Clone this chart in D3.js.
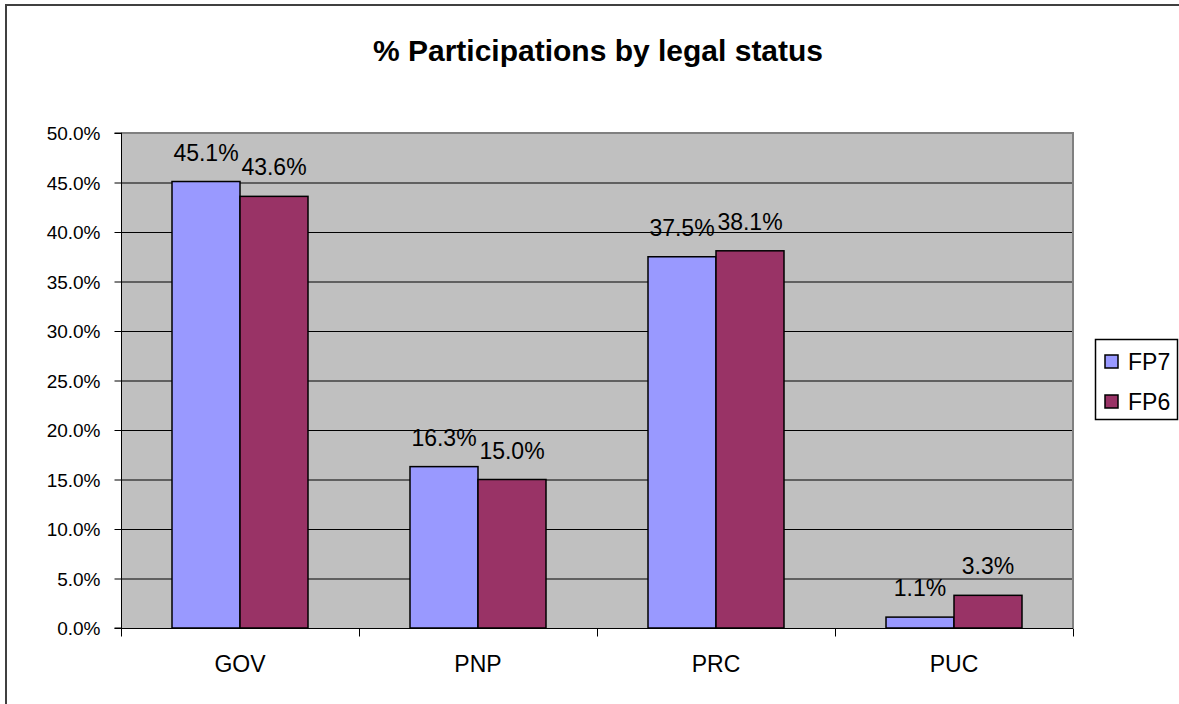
<!DOCTYPE html>
<html>
<head>
<meta charset="utf-8">
<script src="https://d3js.org/d3.v7.min.js"></script>
<style>
  html, body { margin: 0; padding: 0; background: #ffffff; }
  svg { display: block; }
  text { font-family: "Liberation Sans", Arial, sans-serif; fill: #000; }
</style>
</head>
<body>
<svg id="chart" width="1179" height="704"></svg>
<script>
const title = "% Participations by legal status";
const categories = ["GOV", "PNP", "PRC", "PUC"];
const seriesNames = ["FP7", "FP6"];
const fp7 = [45.1, 16.3, 37.5, 1.1];
const fp6 = [43.6, 15.0, 38.1, 3.3];
const yTicks = [0, 5, 10, 15, 20, 25, 30, 35, 40, 45, 50];
const colors = ["#9999ff", "#993366"];

const seriesValues = [fp7, fp6];
const svg = d3.select("#chart");
const W = 1179, H = 704;
const plot = { left: 121, top: 133, right: 1073, bottom: 628 };

// outer frame
svg.append("rect").attr("x", 6).attr("y", 5).attr("width", W + 10).attr("height", H + 10)
  .attr("fill", "#fff").attr("stroke", "#404040").attr("stroke-width", 2);

// title
svg.append("text").attr("x", 598).attr("y", 61).attr("text-anchor", "middle")
  .style("font-size", "30px").style("font-weight", "bold").text(title);

const x0 = d3.scaleBand().domain(categories).range([plot.left, plot.right])
  .paddingInner(102 / 238).paddingOuter(51 / 238);
const x1 = d3.scaleBand().domain(seriesNames).range([0, x0.bandwidth()]);
const y = d3.scaleLinear().domain([0, 50]).range([plot.bottom, plot.top]);

// plot background
svg.append("rect").attr("x", plot.left).attr("y", plot.top)
  .attr("width", plot.right - plot.left).attr("height", plot.bottom - plot.top)
  .attr("fill", "#c0c0c0");

// gridlines
svg.append("g").selectAll("line").data(yTicks.filter(t => t > 0 && t < 50)).join("line")
  .attr("x1", plot.left).attr("x2", plot.right)
  .attr("y1", d => y(d) + 0.5).attr("y2", d => y(d) + 0.5)
  .attr("stroke", "#000").attr("stroke-width", 1);

// plot border top/right (gray)
svg.append("path")
  .attr("d", `M${plot.left},${plot.top} H${plot.right} V${plot.bottom}`)
  .attr("fill", "none").attr("stroke", "#808080").attr("stroke-width", 2);

// bars
const groups = svg.append("g").selectAll("g").data(categories).join("g")
  .attr("transform", c => `translate(${x0(c)},0)`);
groups.selectAll("rect").data((c, i) => seriesNames.map((s, j) => ({ s, v: seriesValues[j][i], j })))
  .join("rect")
  .attr("x", d => x1(d.s)).attr("width", x1.bandwidth())
  .attr("y", d => y(d.v)).attr("height", d => plot.bottom - y(d.v))
  .attr("fill", d => colors[d.j]).attr("stroke", "#000").attr("stroke-width", 1.5);

// data labels
groups.selectAll("text").data((c, i) => seriesNames.map((s, j) => ({ s, v: seriesValues[j][i], j })))
  .join("text")
  .attr("x", d => x1(d.s) + x1.bandwidth() / 2)
  .attr("y", d => y(d.v) - 21)
  .attr("text-anchor", "middle").style("font-size", "23px")
  .text(d => d.v.toFixed(1) + "%");

// y axis
const yAxis = d3.axisLeft(y).tickValues(yTicks).tickSize(7).tickPadding(14)
  .tickFormat(d => d.toFixed(1) + "%");
const yg = svg.append("g").attr("transform", `translate(${plot.left + 0.5},0)`).call(yAxis);
yg.select(".domain").attr("stroke", "#000").attr("d", `M-7,${plot.bottom}H0V${plot.top}H-7`);
yg.selectAll(".tick line").attr("stroke", "#000");
yg.selectAll(".tick text").style("font-size", "19px").attr("dy", "0.35em");

// x axis
const xg = svg.append("g").attr("transform", `translate(0,${plot.bottom + 0.5})`);
xg.append("line").attr("x1", plot.left).attr("x2", plot.right).attr("stroke", "#000");
const boundaries = categories.map(c => x0(c) - x0.step() * x0.paddingInner() / 2).concat([plot.right]);
boundaries[0] = plot.left;
xg.selectAll("line.tk").data(boundaries).join("line").attr("class", "tk")
  .attr("x1", d => Math.round(d) + 0.5).attr("x2", d => Math.round(d) + 0.5)
  .attr("y1", 0).attr("y2", 8).attr("stroke", "#000");
xg.selectAll("text").data(categories).join("text")
  .attr("x", c => x0(c) + x0.bandwidth() / 2).attr("y", 35).attr("dy", "0.35em")
  .attr("text-anchor", "middle").style("font-size", "23px").text(c => c);

// legend
const lg = svg.append("g");
lg.append("rect").attr("x", 1095.5).attr("y", 339.5).attr("width", 82).attr("height", 80)
  .attr("fill", "#fff").attr("stroke", "#000").attr("stroke-width", 1.5);
const items = lg.selectAll("g").data(seriesNames).join("g")
  .attr("transform", (d, i) => `translate(1105,${355 + i * 40})`);
items.append("rect").attr("width", 13).attr("height", 13)
  .attr("fill", (d, i) => colors[i]).attr("stroke", "#000").attr("stroke-width", 1.5);
items.append("text").attr("x", 23).attr("y", 6.5).attr("dy", "0.35em")
  .style("font-size", "23px").text(d => d);
</script>
</body>
</html>
